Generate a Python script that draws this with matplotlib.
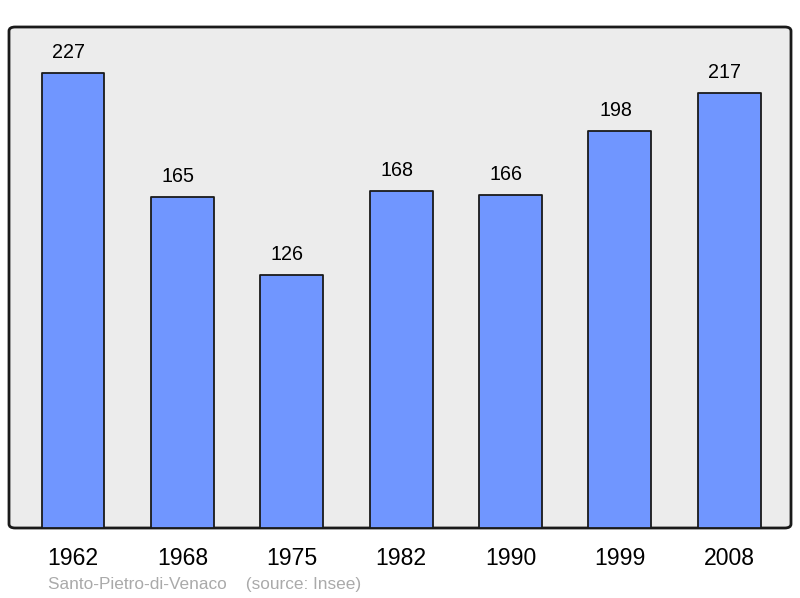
import matplotlib
matplotlib.use("Agg")
import matplotlib.pyplot as plt
from matplotlib.patches import FancyBboxPatch

years = ["1962", "1968", "1975", "1982", "1990", "1999", "2008"]
population = [227, 165, 126, 168, 166, 198, 217]

plt.rcParams['font.family'] = ['Liberation Sans', 'DejaVu Sans']

W, H = 800, 598
fig = plt.figure(figsize=(W/100, H/100), dpi=100)
ax = fig.add_axes([9/W, (H-528)/H, (791-9)/W, (528-27)/H])
ax.set_xlim(-0.585, 6.565)
ax.set_ylim(0, 250)
ax.axis('off')

frame = FancyBboxPatch((0, 0), 1, 1, boxstyle="round,pad=0,rounding_size=0.008",
                       transform=ax.transAxes, facecolor="#ececec", edgecolor="#1a1a1a",
                       linewidth=2, zorder=0, clip_on=False)
ax.add_patch(frame)

x = list(range(len(years)))
bars = ax.bar(x, population, width=0.575, color="#7096ff", edgecolor="#1a1a1a",
              linewidth=1.3, zorder=2)
for b in bars:
    b.set_joinstyle('round')

for xi, v in zip(x, population):
    ax.text(xi - 0.04, v + 5.6, str(v), ha='center', va='bottom', fontsize=14.2, color='black')

for xi, y in zip(x, years):
    ax.text(xi, -15, y, ha='center', va='center', fontsize=16.6, color='black',
            transform=ax.transData, clip_on=False)

fig.text(48/W, 1 - 584/H, "Santo-Pietro-di-Venaco    (source: Insee)", fontsize=12.4,
         color="#aaaaaa", ha='left', va='center')

fig.savefig("out.png", dpi=100)
